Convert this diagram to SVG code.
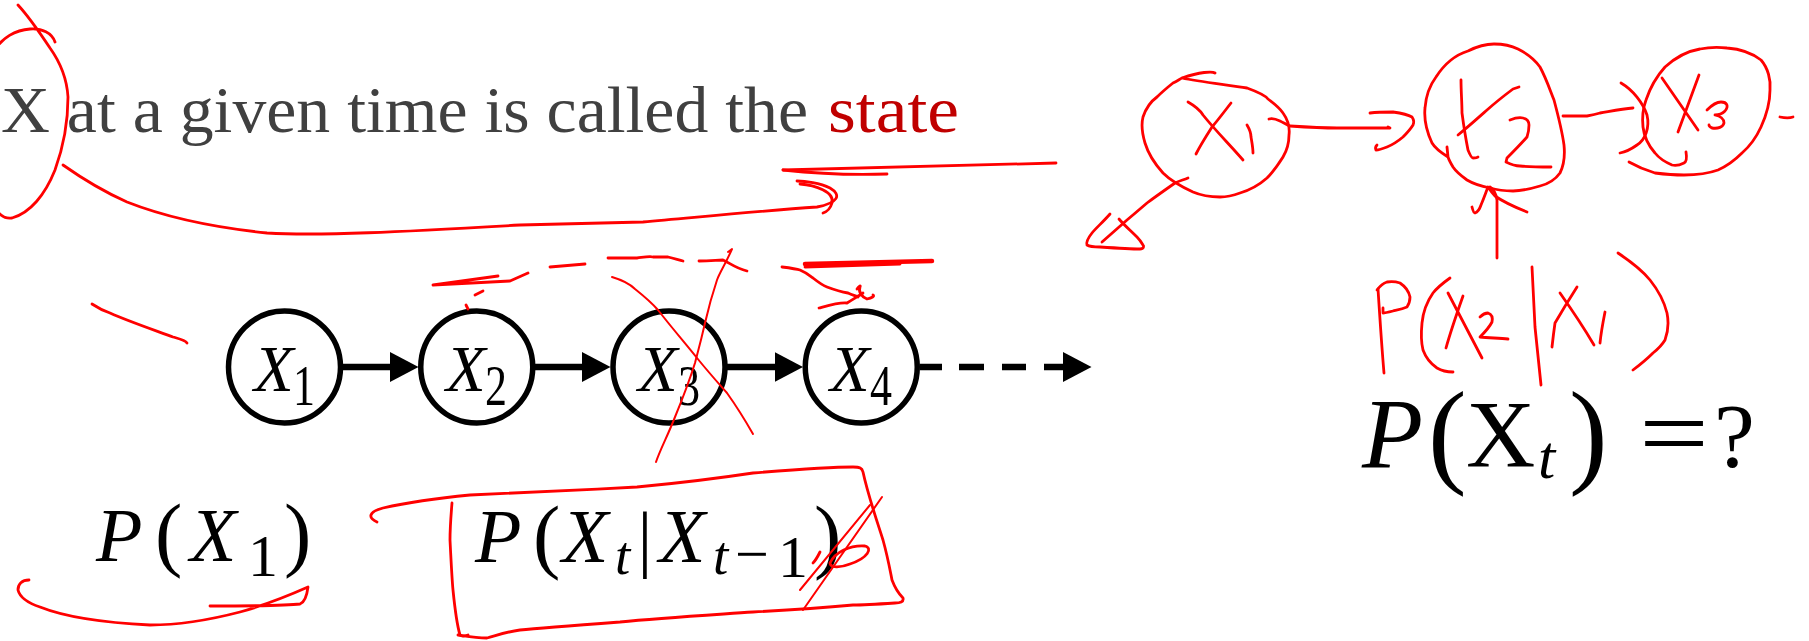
<svg xmlns="http://www.w3.org/2000/svg" width="1809" height="641" viewBox="0 0 1809 641">
<defs>
<style>
.bg{fill:#fff}
.node{fill:none;stroke:#000;stroke-width:5.5}
.lbl{font-family:"Liberation Serif","Times New Roman",serif;font-style:italic;font-size:65px;fill:#000}
.sub{font-family:"Liberation Serif","Times New Roman",serif;font-size:57px;fill:#000}
.edge{fill:none;stroke:#000;stroke-width:6.5}
.math{font-family:"Liberation Serif","Times New Roman",serif;fill:#000}
.it{font-style:italic}
.head{font-family:"Liberation Serif","Times New Roman",serif;font-size:66px;fill:#404040}
.red{fill:none;stroke:#ff0000;stroke-width:2.8;stroke-linecap:round;stroke-linejoin:round}
.thin{stroke-width:2}
</style>
<marker id="ah" markerUnits="userSpaceOnUse" markerWidth="30" markerHeight="32" refX="5" refY="15" orient="auto">
<path d="M0,0 L28.5,15 L0,30 Z" fill="#000"/>
</marker>
</defs>
<rect class="bg" x="0" y="0" width="1809" height="641"/>

<g id="title">
<text class="head" x="1" y="132" textLength="807" lengthAdjust="spacingAndGlyphs">X at a given time is called the</text>
<text class="head" x="828" y="132" style="fill:#c00000" textLength="131" lengthAdjust="spacingAndGlyphs">state</text>
</g>

<g id="node-x1">
<circle class="node" cx="284.5" cy="367" r="56"/>
<text class="lbl" x="254" y="391">X</text>
<text class="sub" x="293" y="405" textLength="22" lengthAdjust="spacingAndGlyphs">1</text>
</g>
<g id="node-x2">
<circle class="node" cx="476.75" cy="367" r="56"/>
<text class="lbl" x="446" y="391">X</text>
<text class="sub" x="485" y="405" textLength="22" lengthAdjust="spacingAndGlyphs">2</text>
</g>
<g id="node-x3">
<circle class="node" cx="669" cy="367" r="56"/>
<text class="lbl" x="638" y="391">X</text>
<text class="sub" x="678" y="405" textLength="22" lengthAdjust="spacingAndGlyphs">3</text>
</g>
<g id="node-x4">
<circle class="node" cx="861.25" cy="367" r="56"/>
<text class="lbl" x="830" y="391">X</text>
<text class="sub" x="870" y="405" textLength="22" lengthAdjust="spacingAndGlyphs">4</text>
</g>

<g id="connectors">
<path class="edge" d="M342.5 367 H395" marker-end="url(#ah)"/>
<path class="edge" d="M534.75 367 H587" marker-end="url(#ah)"/>
<path class="edge" d="M727 367 H779.5" marker-end="url(#ah)"/>
<path class="edge" d="M919.5 367 H942 M959 367 H984 M1002 367 H1026 M1044 367 H1068" marker-end="url(#ah)"/>
</g>

<g id="formula-prior">
<text class="math it" x="96" y="561" font-size="76">P</text>
<text class="math" x="155" y="560.5" font-size="82">(</text>
<text class="math it" x="190" y="561" font-size="76">X</text>
<text class="math" x="248" y="576" font-size="60">1</text>
<text class="math" x="284" y="560.5" font-size="82">)</text>
</g>

<g id="formula-transition">
<text class="math it" x="475" y="562" font-size="76">P</text>
<text class="math" x="533" y="562.5" font-size="82">(</text>
<text class="math it" x="562" y="562" font-size="76">X</text>
<text class="math it" x="615" y="574" font-size="55">t</text>
<text class="math" x="645" y="563" font-size="74" text-anchor="middle">|</text>
<text class="math it" x="659" y="562" font-size="76">X</text>
<text class="math it" x="713" y="574" font-size="55">t</text>
<text class="math" x="735" y="574" font-size="60">−</text>
<text class="math" x="778" y="577" font-size="60">1</text>
<text class="math" x="814" y="562.5" font-size="82">)</text>
</g>

<g id="formula-question">
<text class="math it" x="1362" y="467" font-size="100">P</text>
<text class="math" x="1428" y="471.5" font-size="116">(</text>
<text class="math" x="1466" y="467" font-size="96">X</text>
<text class="math it" x="1538" y="478" font-size="62">t</text>
<text class="math" x="1569" y="471.5" font-size="116">)</text>
<text class="math" x="1639" y="467" font-size="100" textLength="70" lengthAdjust="spacingAndGlyphs">=</text>
<text class="math" x="1714" y="467" font-size="92">?</text>
</g>

<g id="annotations">
<path class="red" d="M55 42 C52 33 42 28 30 29 C15 30 2 38 -5 50 C-20 80 -22 170 -5 208 C0 216 6 219 12 218 C30 213 45 195 55 170 C63 148 68 120 68 97 C67 80 60 62 50 48 C40 33 30 18 18 5"/>
<path class="red" d="M63 165 C80 177 100 190 127 202 C160 215 200 226 267 233 C320 236 400 232 520 225 C600 223 643 222 643 222 C700 217 760 211 817 207 C838 203 842 195 830 188 C820 183 805 181 797 181"/>
<path class="red" d="M800 184 C815 185 835 192 832 203 C830 210 826 212 823 213"/>
<path class="red" d="M783 170 C850 168 950 166 1056 163"/>
<path class="red" d="M783 170 C820 174 860 175 887 174"/>
<path class="red" d="M92 304 C98 308 104 311 110 313 C130 322 160 332 173 337 C180 339 185 340 187 343"/>
<path class="red" d="M498 276 L433 285 L510 281 L528 273"/>
<path class="red" d="M475 295 L483 291 M466 305 L468 309"/>
<path class="red" d="M550 267 L585 264"/>
<path class="red" d="M608 258 C620 258 635 258 637 258 C645 257 650 256 653 257 C660 257 665 257 668 257 C675 259 680 260 683 261"/>
<path class="red" d="M699 261 C710 261 718 260 723 260 C730 263 735 268 747 271"/>
<path class="red thin" d="M612 277 C622 280 630 284 635 289 C645 297 652 303 658 310 C672 328 685 343 697 358 C710 374 720 385 727 393 C737 407 745 420 753 434"/>
<path class="red thin" d="M728 252 L732 249 C725 265 720 272 717 280 C712 295 708 310 705 323 C700 345 697 355 695 363 C688 385 682 400 675 417 C668 435 660 450 656 462"/>
<path class="red" style="stroke-width:4.5" d="M805 264 L932 261"/>
<path class="red" d="M805 267 L900 264"/>
<path class="red" d="M782 267 C790 268 797 269 800 270 C807 273 810 276 813 278 C818 282 822 285 827 287 C835 290 842 292 848 293 C852 295 856 296 858 297"/>
<path class="red" d="M857 289 C859 286 861 285 860 287 C858 292 862 297 867 299 C872 298 875 296 873 295"/>
<path class="red" d="M819 308 C830 305 840 302 847 303 C855 298 860 295 863 293"/>
<path class="red" d="M377 522 C368 518 368 512 383 508 C410 502 440 498 470 495 C520 493 580 490 637 487 C680 483 720 478 753 473 C790 470 830 467 853 467 C860 467 862 468 863 472 C868 495 875 515 883 540 C888 558 890 570 892 580 C895 588 900 595 903 598 C904 602 900 603 895 603 C880 604 865 605 853 605 C820 608 790 610 753 612 C710 615 660 618 620 622 C580 625 540 628 520 630 C505 632 495 636 487 638 C475 638 465 636 458 635"/>
<path class="red" d="M452 503 C451 515 450 530 450 540 C451 560 452 580 453 590 C455 610 457 625 460 635 C462 637 465 636 468 635"/>
<path class="red thin" d="M882 497 L803 610"/>
<path class="red thin" d="M800 590 L870 505"/>
<path class="red" d="M830 563 C835 552 850 545 865 546 C873 548 868 558 850 564 C840 568 830 568 830 563"/>
<path class="red" d="M820 552 C818 556 816 560 813 563"/>
<path class="red" d="M29 580 C22 580 18 584 18 590 C20 598 28 603 40 607 C60 615 90 622 150 625 C185 625 217 618 240 612 C265 605 290 595 308 587 C307 595 305 602 300 604 C285 606 250 606 210 606"/>
<path class="red" d="M1215 73 C1212 71 1200 72 1182 78 C1200 82 1230 85 1247 88 C1258 92 1265 95 1268 99 C1276 105 1281 110 1283 113 C1288 120 1290 127 1289 135 C1289 145 1286 152 1283 157 C1278 165 1273 172 1267 178 C1258 186 1250 190 1240 193 C1232 196 1226 197 1220 197 C1208 197 1200 195 1193 192 C1180 186 1170 180 1163 173 C1154 163 1148 153 1145 143 C1142 133 1141 125 1143 117 C1146 108 1150 102 1157 97 C1163 91 1168 87 1173 83 C1177 81 1180 79 1182 78"/>
<path class="red" d="M1188 102 C1195 106 1200 110 1203 115 C1215 130 1230 145 1243 160"/>
<path class="red" d="M1231 103 C1224 112 1218 120 1212 127 C1205 138 1200 146 1196 154"/>
<path class="red" d="M1247 125 C1250 130 1251 134 1251 137 C1252 143 1253 148 1253 153"/>
<path class="red" d="M1188 178 C1183 180 1179 181 1175 183 C1165 190 1155 197 1147 203 C1140 209 1133 215 1127 220 C1118 228 1110 235 1102 242"/>
<path class="red" d="M1110 214 C1103 222 1096 228 1092 233 C1088 238 1086 242 1087 245 C1090 247 1095 247 1100 247 C1115 248 1130 249 1140 249 C1144 249 1144 246 1143 245 C1140 240 1138 238 1137 237 C1130 230 1124 225 1119 219"/>
<path class="red" d="M1269 119 C1272 118 1276 119 1280 121 C1284 123 1287 125 1290 126 C1305 127 1320 128 1337 128 C1355 128 1375 128 1390 128 L1388 127"/>
<path class="red" d="M1370 113 C1378 112 1385 112 1393 112 C1400 113 1407 114 1412 117 C1414 120 1414 123 1413 125 C1410 130 1406 134 1403 137 C1397 142 1392 145 1387 147 C1382 149 1378 150 1376 150 C1375 148 1376 146 1377 145"/>
<path class="red" d="M1447 147 L1448 157 C1440 152 1435 148 1432 143 C1426 130 1424 118 1425 108 C1426 95 1430 85 1436 77 C1445 63 1455 55 1468 51 C1478 46 1486 44 1494 44 C1505 44 1512 46 1518 49 C1528 54 1535 60 1540 67 C1546 78 1550 90 1554 100 C1558 115 1562 130 1564 145 C1565 155 1564 165 1560 173 C1555 180 1548 184 1540 186 C1530 189 1522 191 1513 191 C1505 191 1497 190 1490 188 C1480 186 1472 183 1467 180 C1460 175 1455 170 1453 167 C1450 162 1449 160 1448 157"/>
<path class="red" d="M1461 80 C1461 92 1462 102 1462 113 C1464 128 1466 140 1468 150 C1470 155 1472 158 1473 158 C1475 158 1477 158 1478 157"/>
<path class="red" d="M1458 135 C1468 127 1478 118 1487 110 C1496 102 1505 95 1513 89 L1519 87"/>
<path class="red" d="M1510 120 C1515 118 1519 117 1523 118 C1527 119 1529 122 1529 125 C1529 130 1528 134 1527 137 C1520 145 1513 152 1507 158 L1506 162 C1510 164 1515 166 1520 166 C1530 167 1540 167 1551 167"/>
<path class="red" d="M1563 116 C1570 116 1580 116 1587 116 C1593 115 1597 114 1600 113 C1612 111 1622 109 1633 108"/>
<path class="red" d="M1686 152 C1687 158 1686 162 1684 163 C1680 165 1676 166 1672 165 C1665 162 1659 158 1655 153 C1648 145 1644 136 1643 127 C1642 117 1643 108 1646 100 C1650 88 1656 77 1665 67 C1676 57 1688 51 1700 49 C1710 47 1718 47 1727 48 C1740 49 1752 53 1761 60 C1768 68 1771 80 1770 90 C1770 103 1766 116 1761 127 C1756 138 1750 146 1742 153 C1735 160 1727 166 1718 170 C1707 174 1695 175 1684 175 C1673 175 1663 174 1655 173 C1645 170 1636 166 1629 162"/>
<path class="red" d="M1621 83 C1633 90 1643 103 1647 115 C1650 128 1645 140 1637 145 C1630 150 1625 152 1620 153"/>
<path class="red" d="M1662 78 L1698 130 M1699 75 L1678 132"/>
<path class="red" d="M1707 110 C1712 105 1716 102 1721 102 C1727 102 1729 106 1725 111 C1722 114 1718 115 1715 115 C1720 116 1724 119 1724 123 C1723 127 1718 129 1712 128 C1710 127 1709 126 1709 125"/>
<path class="red" d="M1780 117 C1785 118 1790 118 1793 117"/>
<path class="red" d="M1497 258 C1497 240 1497 220 1497 200 C1496 193 1493 189 1490 187"/>
<path class="red" d="M1472 207 C1473 211 1474 213 1475 213 C1478 212 1480 208 1481 205 C1484 198 1486 192 1488 187 C1490 190 1492 193 1495 196 C1505 203 1517 208 1527 212"/>
<path class="red" d="M1378 289 C1380 320 1382 350 1384 373"/>
<path class="red" d="M1377 290 C1380 286 1384 283 1387 282 C1393 281 1397 282 1400 283 C1406 287 1409 292 1410 297 C1410 301 1409 304 1407 307 C1402 309 1397 310 1393 311 C1389 312 1385 313 1383 313 L1383 308"/>
<path class="red" d="M1450 278 C1443 283 1437 288 1433 293 C1426 303 1423 313 1422 323 C1421 333 1421 342 1423 350 C1426 358 1431 364 1437 368 C1442 371 1448 372 1453 372"/>
<path class="red" d="M1448 293 L1482 358 M1463 296 C1457 313 1451 330 1446 348"/>
<path class="red" d="M1480 317 C1483 314 1486 313 1488 313 C1491 314 1493 317 1492 322 C1489 328 1484 333 1480 337 C1489 338 1499 338 1508 339"/>
<path class="red" d="M1532 267 C1533 287 1534 307 1535 327 C1537 347 1539 367 1541 385"/>
<path class="red" d="M1552 347 C1553 338 1554 330 1555 323 C1562 311 1570 298 1577 287 M1560 293 C1572 310 1584 328 1594 345 M1605 312 C1603 322 1601 333 1600 343"/>
<path class="red" d="M1618 253 C1630 261 1642 270 1650 280 C1658 290 1664 301 1667 313 C1669 323 1668 332 1665 340 C1662 345 1658 349 1653 353 C1647 359 1641 364 1633 370"/>
</g>
</svg>
